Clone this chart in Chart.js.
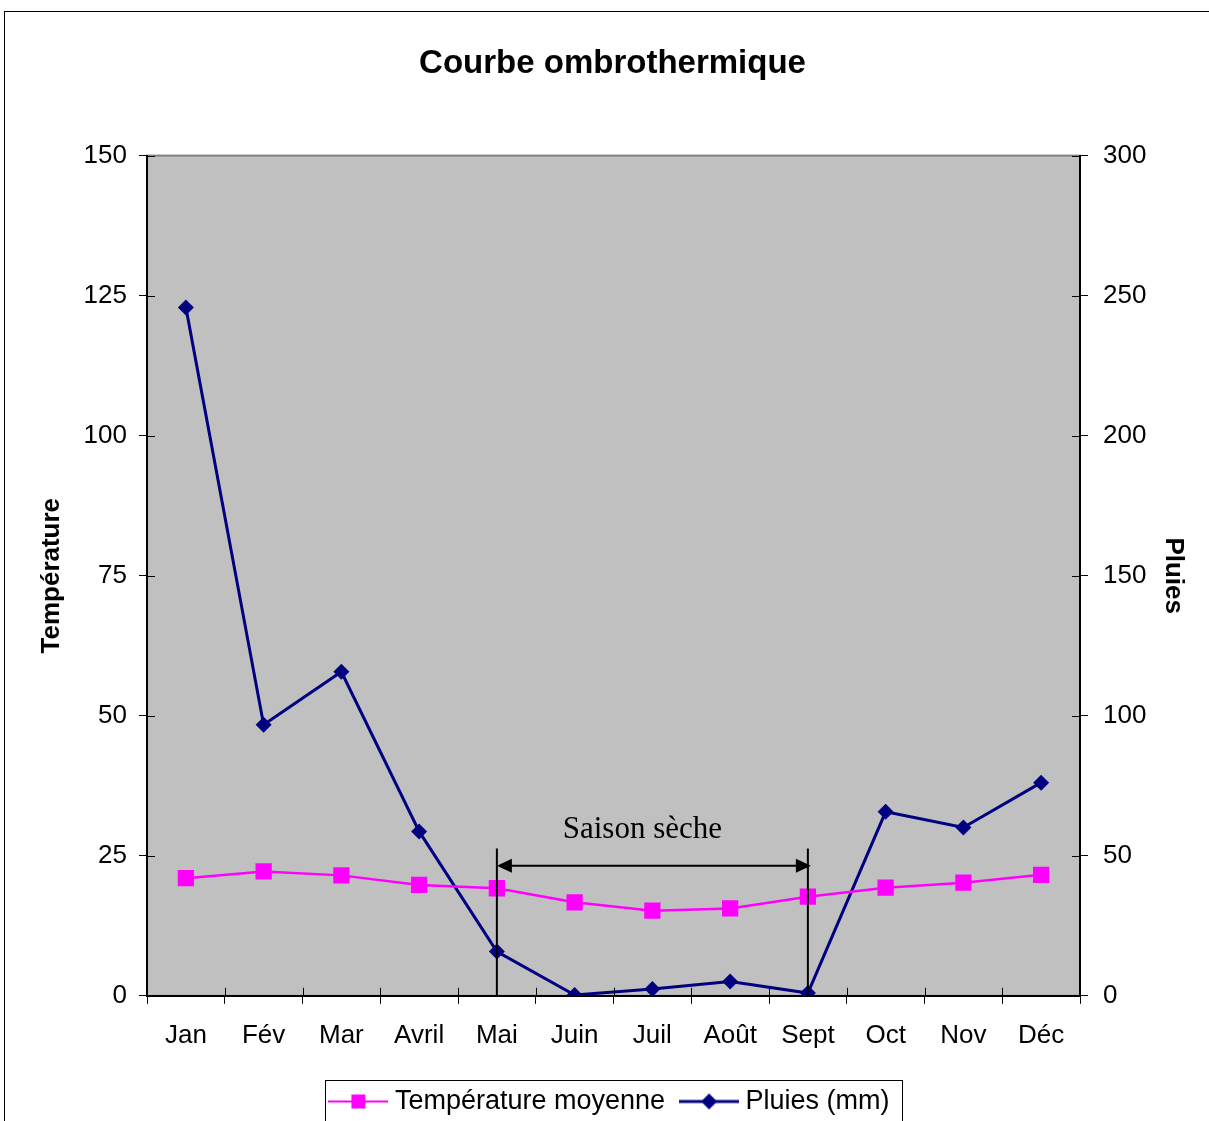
<!DOCTYPE html>
<html>
<head>
<meta charset="utf-8">
<title>Courbe ombrothermique</title>
<script src="https://cdn.jsdelivr.net/npm/chart.js@4.4.0/dist/chart.umd.min.js"></script>
<style>
    body { margin: 0; background: #ffffff; }
    #wrap { position: relative; width: 1209px; height: 1121px; overflow: hidden; }
</style>
</head>
<body>
<div id="wrap"><canvas id="myChart" width="1209" height="1125"></canvas></div>
<script>
/************************/
/*  Courbe ombrothermique */
/************************/

var months = ["Jan", "Fév", "Mar", "Avril", "Mai", "Juin", "Juil", "Août", "Sept", "Oct", "Nov", "Déc"];
var tempValues = [21.0, 22.2, 21.5, 19.8, 19.2, 16.7, 15.2, 15.6, 17.7, 19.3, 20.2, 21.6];
var rainValues = [245.8, 96.8, 115.7, 58.7, 15.8, 0.3, 2.4, 5.1, 1.0, 65.7, 60.1, 76.1];
var tempTicks = [0, 25, 50, 75, 100, 125, 150];
var rainTicks = [0, 50, 100, 150, 200, 250, 300];

// dry season annotation (start month, end month, label)
var drySeason = ["Mai", "Sept"];
var drySeasonLabel = "Saison sèche";

var PINK = "#ff00ff";
var NAVY = "#000080";

Chart.defaults.font.family = "'Liberation Sans', Arial, sans-serif";
Chart.defaults.color = "#000000";

//small legend icon: line with the marker in the middle
var makeIcon = function(color, lineWidth, shape) {
    var c = document.createElement("canvas");
    c.width = 60;
    c.height = 20;
    var g = c.getContext("2d");
    g.strokeStyle = color;
    g.fillStyle = color;
    g.lineWidth = lineWidth;
    g.beginPath();
    g.moveTo(0, 10);
    g.lineTo(60, 10);
    g.stroke();
    if (shape === "square") {
        g.fillRect(23, 3, 14, 14);
    } else {
        g.beginPath();
        g.moveTo(30, 2);
        g.lineTo(38, 10);
        g.lineTo(30, 18);
        g.lineTo(22, 10);
        g.closePath();
        g.fill();
    }
    return c;
};

var tempIcon = makeIcon(PINK, 2, "square");
var rainIcon = makeIcon(NAVY, 3, "diamond");

var framePlugin = {
    id: "frame",
    beforeDraw: function(chart) {
        var ctx = chart.ctx;
        var a = chart.chartArea;
        ctx.save();
        //outer border of the picture
        ctx.strokeStyle = "#000000";
        ctx.lineWidth = 1;
        ctx.strokeRect(4.5, 11.5, chart.width + 50, chart.height + 50);
        //grey plot area
        ctx.fillStyle = "#c0c0c0";
        ctx.fillRect(a.left, a.top, a.right - a.left, a.bottom - a.top);
        ctx.strokeStyle = "#808080";
        ctx.lineWidth = 2;
        ctx.strokeRect(a.left, a.top, a.right - a.left, a.bottom - a.top);
        ctx.restore();
    },
    afterDraw: function(chart) {
        var ctx = chart.ctx;
        var a = chart.chartArea;
        var x = chart.scales.x;
        var y = chart.scales.y;
        var y1 = chart.scales.y1;
        ctx.save();
        ctx.strokeStyle = "#000000";
        ctx.lineWidth = 1;

        //inner half of the crossing tick marks
        ctx.beginPath();
        y.ticks.forEach(function(t, i) {
            var py = Math.round(y.getPixelForTick(i)) + 0.5;
            ctx.moveTo(a.left, py);
            ctx.lineTo(a.left + 8, py);
        });
        y1.ticks.forEach(function(t, i) {
            var py = Math.round(y1.getPixelForTick(i)) + 0.5;
            ctx.moveTo(a.right - 8, py);
            ctx.lineTo(a.right, py);
        });
        var step = x.getPixelForValue(1) - x.getPixelForValue(0);
        for (var i = 0; i <= months.length; i++) {
            var px = Math.round(x.getPixelForValue(i) - step / 2) + 0.5;
            ctx.moveTo(px, a.bottom - 8);
            ctx.lineTo(px, a.bottom);
        }
        ctx.stroke();

        //dry season annotation
        var xs = x.getPixelForValue(months.indexOf(drySeason[0]));
        var xe = x.getPixelForValue(months.indexOf(drySeason[1]));
        var yTop = y.getPixelForValue(26.3);
        var yArrow = y.getPixelForValue(23.2);
        ctx.lineWidth = 2;
        ctx.beginPath();
        ctx.moveTo(xs, yTop);
        ctx.lineTo(xs, a.bottom);
        ctx.moveTo(xe, yTop);
        ctx.lineTo(xe, a.bottom);
        ctx.moveTo(xs + 12, yArrow);
        ctx.lineTo(xe - 10, yArrow);
        ctx.stroke();
        ctx.fillStyle = "#000000";
        ctx.beginPath();
        ctx.moveTo(xs, yArrow);
        ctx.lineTo(xs + 15, yArrow - 7);
        ctx.lineTo(xs + 15, yArrow + 7);
        ctx.closePath();
        ctx.fill();
        ctx.beginPath();
        ctx.moveTo(xe + 3, yArrow);
        ctx.lineTo(xe - 12, yArrow - 7);
        ctx.lineTo(xe - 12, yArrow + 7);
        ctx.closePath();
        ctx.fill();
        ctx.font = "31px 'Liberation Serif', 'Times New Roman', serif";
        ctx.textAlign = "center";
        ctx.textBaseline = "middle";
        ctx.fillText(drySeasonLabel, (xs + xe) / 2 - 10, y.getPixelForValue(29.6));

        //box around the legend
        var boxes = chart.legend.legendHitBoxes;
        if (boxes && boxes.length) {
            var l = boxes[0].left, r = 0, t = boxes[0].top, h = boxes[0].height;
            boxes.forEach(function(b) {
                l = Math.min(l, b.left);
                r = Math.max(r, b.left + b.width);
            });
            ctx.lineWidth = 1;
            ctx.strokeRect(Math.round(l - 10) + 0.5, Math.round(t + h / 2 - 22) + 0.5, Math.round(r - l + 23), 44);
        }
        ctx.restore();
    }
};

var data = {
    labels: months,
    datasets: [{
        label: "Température moyenne",
        data: tempValues,
        yAxisID: "y",
        borderColor: PINK,
        backgroundColor: PINK,
        borderWidth: 2.5,
        pointStyle: "rect",
        pointRadius: 11.5,
        pointBorderWidth: 0,
        tension: 0
    }, {
        label: "Pluies (mm)",
        data: rainValues,
        yAxisID: "y1",
        borderColor: NAVY,
        backgroundColor: NAVY,
        borderWidth: 3,
        pointStyle: "rectRot",
        pointRadius: 8,
        pointBorderWidth: 0,
        tension: 0
    }]
};

var options = {
    responsive: false,
    animation: false,
    layout: {
        padding: { left: 32, right: 16, top: 0, bottom: 0 }
    },
    plugins: {
        title: {
            display: true,
            text: "Courbe ombrothermique",
            color: "#000000",
            font: { size: 33, weight: "bold" },
            padding: { top: 44, bottom: 72 }
        },
        legend: {
            position: "bottom",
            labels: {
                usePointStyle: true,
                pointStyleWidth: 46,
                padding: 21,
                color: "#000000",
                font: { size: 27 },
                generateLabels: function(chart) {
                    return [
                        { text: "Température moyenne", pointStyle: tempIcon, datasetIndex: 0, lineWidth: 0, fillStyle: PINK, strokeStyle: PINK },
                        { text: "Pluies (mm)", pointStyle: rainIcon, datasetIndex: 1, lineWidth: 0, fillStyle: NAVY, strokeStyle: NAVY }
                    ];
                }
            }
        },
        tooltip: { enabled: false }
    },
    scales: {
        x: {
            offset: true,
            grid: { display: true, drawOnChartArea: false, offset: true, tickLength: 8, color: "#000000" },
            border: { display: true, color: "#000000", width: 2 },
            ticks: { padding: 16, color: "#000000", font: { size: 26 }, maxRotation: 0 }
        },
        y: {
            position: "left",
            min: tempTicks[0],
            max: tempTicks[tempTicks.length - 1],
            ticks: { stepSize: tempTicks[1] - tempTicks[0], padding: 12, color: "#000000", font: { size: 26 } },
            grid: { display: true, drawOnChartArea: false, tickLength: 8, color: "#000000" },
            border: { display: true, color: "#000000", width: 2 },
            title: { display: true, text: "Température", color: "#000000", font: { size: 26, weight: "bold" }, padding: { top: 4, bottom: 4 } },
            afterFit: function(scale) { scale.width = 115; }
        },
        y1: {
            position: "right",
            min: rainTicks[0],
            max: rainTicks[rainTicks.length - 1],
            ticks: { stepSize: rainTicks[1] - rainTicks[0], padding: 15, color: "#000000", font: { size: 26 } },
            grid: { display: true, drawOnChartArea: false, tickLength: 8, color: "#000000" },
            border: { display: true, color: "#000000", width: 2 },
            title: { display: true, text: "Pluies", color: "#000000", font: { size: 26, weight: "bold" }, padding: { top: 4, bottom: 4 } },
            afterFit: function(scale) { scale.width = 113; }
        }
    }
};

var ctx = document.getElementById("myChart");
var myChart = new Chart(ctx, {
    type: "line",
    data: data,
    options: options,
    plugins: [framePlugin]
});
</script>
</body>
</html>
